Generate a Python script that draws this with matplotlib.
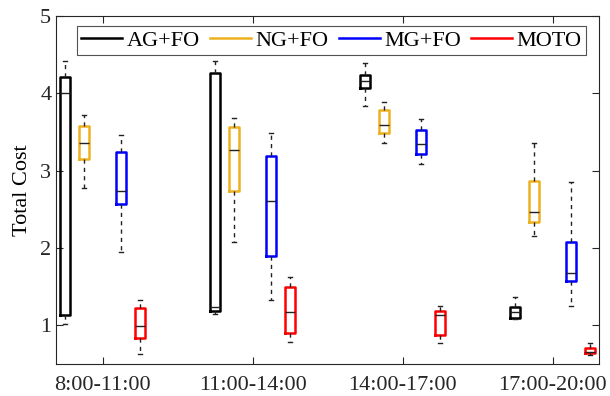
import numpy as np
import matplotlib.pyplot as plt

plt.rcParams['font.family'] = ['Liberation Serif', 'DejaVu Serif']

periods = ['8:00-11:00', '11:00-14:00', '14:00-17:00', '17:00-20:00']
methods = ['AG+FO', 'NG+FO', 'MG+FO', 'MOTO']
colors = ['#000000', '#EDB120', '#0000FF', '#FF0000']

# five-number summaries per method, one value per period
# (lower whisker, q1, median, q3, upper whisker)
ag_lo  = [1.02, 1.15, 3.84, 1.08]
ag_q1  = [1.13, 1.19, 4.07, 1.10]
ag_med = [4.00, 1.23, 4.16, 1.17]
ag_q3  = [4.21, 4.26, 4.24, 1.23]
ag_hi  = [4.41, 4.41, 4.39, 1.36]

ng_lo  = [2.78, 2.08, 3.36, 2.15]
ng_q1  = [3.15, 2.73, 3.48, 2.34]
ng_med = [3.35, 3.27, 3.59, 2.46]
ng_q3  = [3.58, 3.56, 3.78, 2.87]
ng_hi  = [3.72, 3.68, 3.88, 3.35]

mg_lo  = [1.95, 1.32, 3.09, 1.25]
mg_q1  = [2.57, 1.90, 3.22, 1.57]
mg_med = [2.74, 2.60, 3.34, 1.67]
mg_q3  = [3.24, 3.19, 3.53, 2.08]
mg_hi  = [3.46, 3.49, 3.67, 2.85]

mo_lo  = [0.63, 0.78, 0.77, 0.62]
mo_q1  = [0.83, 0.90, 0.88, 0.64]
mo_med = [0.99, 1.17, 1.13, 0.66]
mo_q3  = [1.22, 1.50, 1.19, 0.70]
mo_hi  = [1.32, 1.63, 1.25, 0.77]

summaries = [
    (ag_lo, ag_q1, ag_med, ag_q3, ag_hi),
    (ng_lo, ng_q1, ng_med, ng_q3, ng_hi),
    (mg_lo, mg_q1, mg_med, mg_q3, mg_hi),
    (mo_lo, mo_q1, mo_med, mo_q3, mo_hi),
]
offsets = [-0.25, -0.125, 0.125, 0.25]

fig = plt.figure(figsize=(6.1, 3.96), dpi=100)
ax = fig.add_axes([0.092, 0.081, 0.890, 0.879])

x = np.arange(1, len(periods) + 1)
for (lo, q1, med, q3, hi), off, col, name in zip(summaries, offsets, colors, methods):
    stats = [dict(whislo=lo[i], q1=q1[i], med=med[i], q3=q3[i], whishi=hi[i], fliers=[])
             for i in range(len(periods))]
    ax.bxp(stats, positions=x + off, widths=0.067, capwidths=0.025,
           showfliers=False, manage_ticks=False,
           boxprops=dict(color=col, linewidth=1.8),
           medianprops=dict(color='#222222', linewidth=1.0),
           whiskerprops=dict(color='#222222', linewidth=1.0, linestyle=(0, (3, 3))),
           capprops=dict(color='#222222', linewidth=1.0))
    ax.plot([], [], color=col, linewidth=1.8, label=name)

ax.set_xlim(0.69, 4.31)
ax.set_ylim(0.5, 5)
ax.set_xticks(x)
ax.set_xticklabels(periods)
ax.set_yticks([1, 2, 3, 4, 5])
ax.set_ylabel('Total Cost', fontsize=16, labelpad=6)
ax.tick_params(direction='in', top=True, right=True, labelsize=16, length=5,
               color='#262626', labelcolor='#262626')
ax.tick_params(axis='x', pad=9)
for s in ax.spines.values():
    s.set_color('#262626')
    s.set_linewidth(0.8)

leg = ax.legend(loc='upper center', ncol=4, fontsize=16, frameon=True, fancybox=False,
                edgecolor='#262626', handlelength=1.85, handletextpad=0.2,
                columnspacing=0.45, borderpad=0.2, borderaxespad=0,
                bbox_to_anchor=(0.507, 0.971))
leg.get_frame().set_linewidth(0.8)

fig.savefig('out.png', dpi=100)
